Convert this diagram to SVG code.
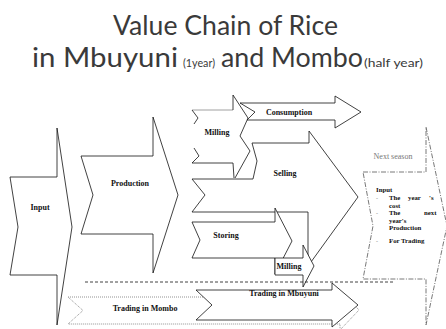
<svg xmlns="http://www.w3.org/2000/svg" width="446" height="329" viewBox="0 0 446 329">
<style>
.t{font-family:Lato,"Open Sans",sans-serif;fill:#3a3a3a}
.sh{fill:#fff;stroke:#111;stroke-width:0.8;stroke-linejoin:miter}
.nf{fill:#fff;stroke:none}
.ln{fill:none;stroke:#111;stroke-width:0.8}
.gr{fill:none;stroke:#888;stroke-width:0.8}
.lb{font-family:"Liberation Serif","Times New Roman",serif;font-weight:bold;font-size:8px;fill:#111;text-anchor:middle}
.sm{font-family:"Liberation Serif","Times New Roman",serif;font-weight:bold;font-size:6.8px;fill:#111}
.bl{font-family:"Liberation Serif",serif;font-size:6px;fill:#888}
.dd{fill:#fff;stroke:#555;stroke-width:0.8;stroke-dasharray:5 1.5 1 1.5}
.dot{fill:#fff;stroke:#777;stroke-width:0.8;stroke-dasharray:1 1}
</style>
<rect width="446" height="329" fill="#fff"/>
<g id="title">
<text class="t" x="113" y="35" font-size="26" textLength="225" lengthAdjust="spacingAndGlyphs">Value Chain of Rice</text>
<text class="t" x="32" y="67" font-size="26" textLength="146" lengthAdjust="spacingAndGlyphs">in Mbuyuni</text>
<text class="t" x="183" y="67" font-size="12" textLength="32" lengthAdjust="spacingAndGlyphs">(1year)</text>
<text class="t" x="221" y="67" font-size="26" textLength="142" lengthAdjust="spacingAndGlyphs">and Mombo</text>
<text class="t" x="364" y="67" font-size="12" textLength="59" lengthAdjust="spacingAndGlyphs">(half year)</text>
</g>
<g id="input">
<polygon class="sh" points="10,177 57,177 57,128 72,227 57,325 57,275 10,275 18,227"/>
<text class="lb" x="40" y="210">Input</text>
</g>
<g id="production">
<polygon class="sh" points="81,156 153,156 153,117 178,195 153,273 153,234 81,234 93,195"/>
<text class="lb" x="130" y="186">Production</text>
</g>
<g id="trading-mombo">
<polygon class="dot" points="68,297 340,297 340,290 359,310 340,330 340,324 68,324 83,310.5"/>
<text class="lb" x="145" y="311">Trading in Mombo</text>
</g>
<g id="selling">
<polygon class="sh" points="252,143 309,143 309,131 358,197 311,262 308,256 308,212 192,212 205,195 192,179 253,179 257,161"/>
<text class="lb" x="285" y="176">Selling</text>
</g>
<g id="milling-top">
<polygon class="nf" points="192,110 233,110 233,95 248,118 240,136 250,151 235,178 233,178 233,163 192,163"/>
<path class="gr" d="M192,110 L233,110"/>
<path class="ln" d="M233,110 L233,95 L248,118 L240,136 L250,151 L235,178 M234,178 L233,163 L192,163 M192,110 L198,118 L194,124 M194,148 L199,156 L192,163"/>
<text class="lb" x="217" y="135">Milling</text>
</g>
<g id="consumption">
<polygon class="sh" points="240,103 335,103 335,96 361,112 335,128 335,120 247,120 255,112"/>
<text class="lb" x="289" y="115">Consumption</text>
</g>
<g id="storing">
<polygon class="sh" points="192,222 275,222 275,208 292,241 275,274 275,258 192,258 200,240"/>
<text class="lb" x="226" y="238">Storing</text>
</g>
<g id="milling-bottom">
<polygon class="sh" points="275,258 303,258 303,245 314,266 303,287 303,275 275,275"/>
<text class="lb" x="289" y="269" font-size="7.5">Milling</text>
</g>
<g id="trading-mbuyuni">
<polygon class="sh" points="196,290 332,290 332,283 358,305 332,327 332,320 196,320 212,305"/>
<text class="lb" x="284" y="296">Trading in Mbuyuni</text>
</g>
<g id="next-season">
<polygon class="dd" points="363,172 426,172 426,127 447,226 426,325 426,279 363,279 373,226"/>
<text x="393" y="158.5" font-family="Liberation Serif, serif" font-size="8" fill="#777" text-anchor="middle">Next season</text>
<text class="sm" x="376" y="192" font-size="7.5">Input</text>
<text class="bl" x="376" y="200">-</text>
<text class="sm" x="389" y="200">The</text>
<text class="sm" x="408" y="200">year</text>
<text class="sm" x="429" y="200">'s</text>
<text class="sm" x="389" y="207.5">cost</text>
<text class="bl" x="376" y="215">-</text>
<text class="sm" x="389" y="215">The</text>
<text class="sm" x="424" y="215">next</text>
<text class="sm" x="389" y="222.5">year's</text>
<text class="sm" x="389" y="230">Production</text>
<text class="bl" x="376" y="243">-</text>
<text class="sm" x="389" y="243">For Trading</text>
</g>
<g id="connectors">
<line x1="85" y1="282" x2="395" y2="282" stroke="#111" stroke-width="0.8" stroke-dasharray="3 2"/>
</g>
</svg>
